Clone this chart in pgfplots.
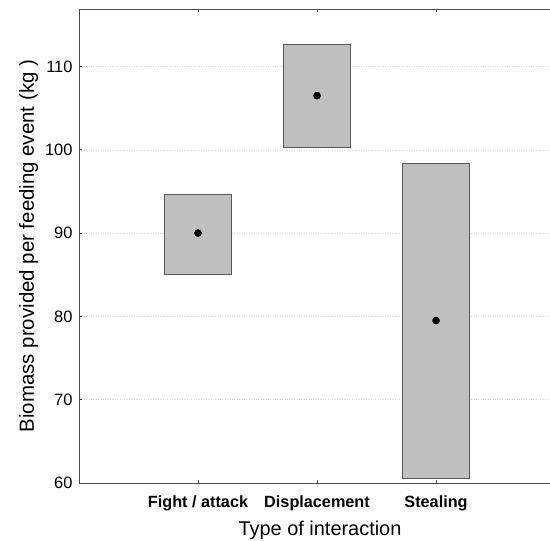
\documentclass[border=0pt]{standalone}
\usepackage{pgfplots}
\pgfplotsset{compat=1.18}
\usepackage{fontspec}
\setmainfont{Liberation Sans}
\begin{document}
\begin{tikzpicture}
\begin{axis}[
  at={(0,0)}, anchor=south west,
  scale only axis,
  width=482bp, height=474bp,
  xmin=0, xmax=4.05,
  ymin=60, ymax=116.9,
  xtick={1,2,3},
  xticklabels={\textbf{Fight / attack},\textbf{Displacement},\textbf{Stealing}},
  ytick={60,70,80,90,100,110},
  tick align=inside,
  major tick length=3bp,
  tick style={color=black!70, line width=0.6pt},
  axis line style={color=black!70, line width=0.9pt},
  ymajorgrids,
  major grid style={dotted, color=black!15, line width=0.5pt},
  /pgf/number format/assume math mode=true,
  yticklabel style={font=\fontsize{16.5}{16.5}\selectfont, xshift=-3bp},
  xticklabel style={font=\fontsize{16.3}{16.5}\selectfont, yshift=-9bp},
  xlabel={Type of interaction},
  ylabel={Biomass provided per feeding event (kg )},
  xlabel style={font=\fontsize{20}{20}\selectfont, yshift=-3bp},
  ylabel style={font=\fontsize{20.5}{20.5}\selectfont, yshift=0bp},
  clip=false,
]
\addplot[fill=black!25, draw=black!65, line width=0.8pt] coordinates {(0.72,85.1) (1.28,85.1) (1.28,94.7) (0.72,94.7)} -- cycle;
\addplot[fill=black!25, draw=black!65, line width=0.8pt] coordinates {(1.72,100.25) (2.28,100.25) (2.28,112.6) (1.72,112.6)} -- cycle;
\addplot[fill=black!25, draw=black!65, line width=0.8pt] coordinates {(2.72,60.55) (3.28,60.55) (3.28,98.4) (2.72,98.4)} -- cycle;
\addplot[only marks, mark=*, mark size=3.6bp, color=black] coordinates {(1,90.0) (2,106.5) (3,79.5)};
\end{axis}
\pgfresetboundingbox
\useasboundingbox (-79bp,-58bp) rectangle (471bp,483bp);
\end{tikzpicture}
\end{document}
